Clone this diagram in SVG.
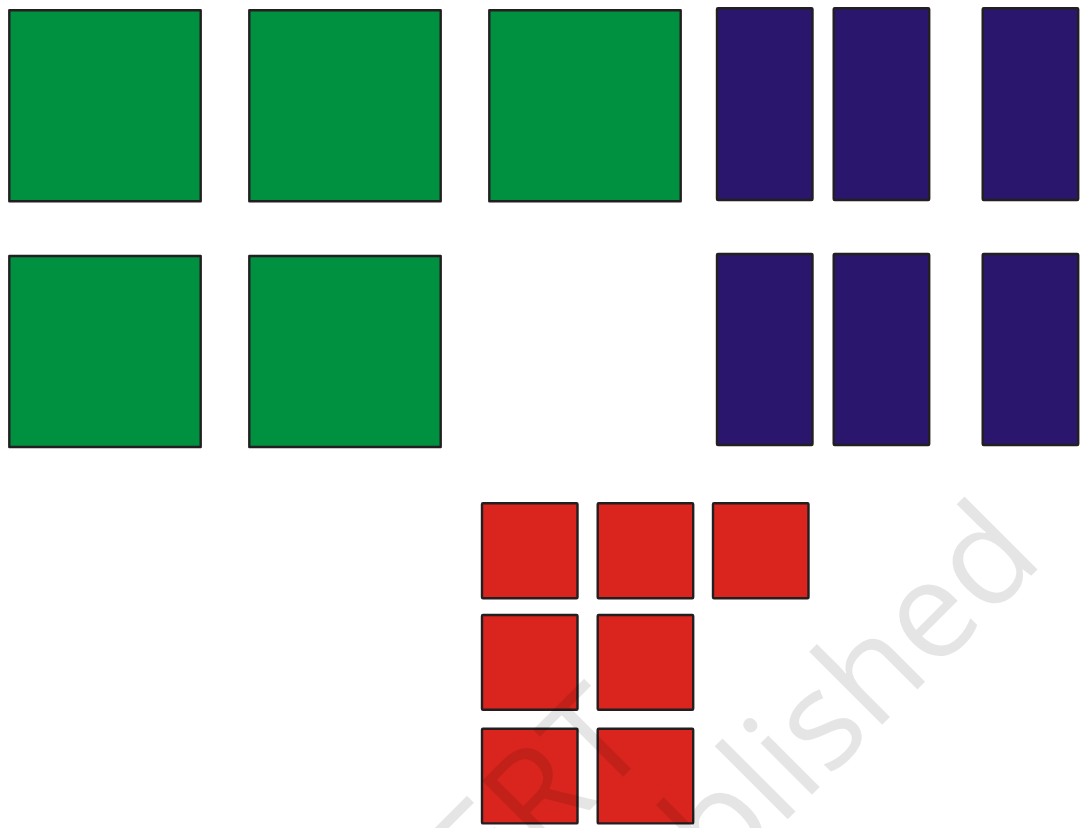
<svg xmlns="http://www.w3.org/2000/svg" width="1083" height="828" viewBox="0 0 1083 828">
<style>
.g,.p,.r{stroke:#231f20;stroke-width:2.4;stroke-linejoin:round}
.g{fill:#009140}
.p{fill:#2a176d}
.r{fill:#d9251d}
.wm{font-family:"Open Sans","Noto Sans",sans-serif;font-size:136px;fill:#000;fill-opacity:0.1;text-anchor:end}
</style>
<rect x="0" y="0" width="1083" height="828" fill="#ffffff"/>
<g id="green">
<rect id="g1" class="g" x="9.3" y="10.3" width="191.4" height="191"/>
<rect id="g2" class="g" x="249.3" y="10.3" width="191.4" height="191"/>
<rect id="g3" class="g" x="489.3" y="10.3" width="191.4" height="191"/>
<rect id="g4" class="g" x="9.3" y="256" width="191.4" height="191"/>
<rect id="g5" class="g" x="249.3" y="256" width="191.4" height="191"/>
</g>
<g id="purple">
<rect id="p1" class="p" x="717" y="8.3" width="95.5" height="191.7" rx="1"/>
<rect id="p2" class="p" x="833.7" y="8.3" width="95.5" height="191.7" rx="1"/>
<rect id="p3" class="p" x="982.7" y="8.3" width="95.5" height="191.7" rx="1"/>
<rect id="p4" class="p" x="717" y="254" width="95.5" height="191" rx="1"/>
<rect id="p5" class="p" x="833.7" y="254" width="95.5" height="191" rx="1"/>
<rect id="p6" class="p" x="982.7" y="254" width="95.5" height="191" rx="1"/>
</g>
<g id="red">
<rect id="r1" class="r" x="482" y="503.3" width="95.5" height="95" rx="1"/>
<rect id="r2" class="r" x="597.7" y="503.3" width="95.5" height="95" rx="1"/>
<rect id="r3" class="r" x="713" y="503.3" width="95.5" height="95" rx="1"/>
<rect id="r4" class="r" x="482" y="615" width="95.5" height="94.7" rx="1"/>
<rect id="r5" class="r" x="597.7" y="615" width="95.5" height="94.7" rx="1"/>
<rect id="r6" class="r" x="482" y="728.7" width="95.5" height="94.7" rx="1"/>
<rect id="r7" class="r" x="597.7" y="728.7" width="95.5" height="94.7" rx="1"/>
</g>
<g id="connectors"/>
<g id="watermark">
<text class="wm" x="653.7" y="746.3" transform="rotate(-45 653.7 746.3)">ERT</text>
<text class="wm" x="1045.8" y="561.2" transform="rotate(-45 1045.8 561.2)">blished</text>
</g>
</svg>
